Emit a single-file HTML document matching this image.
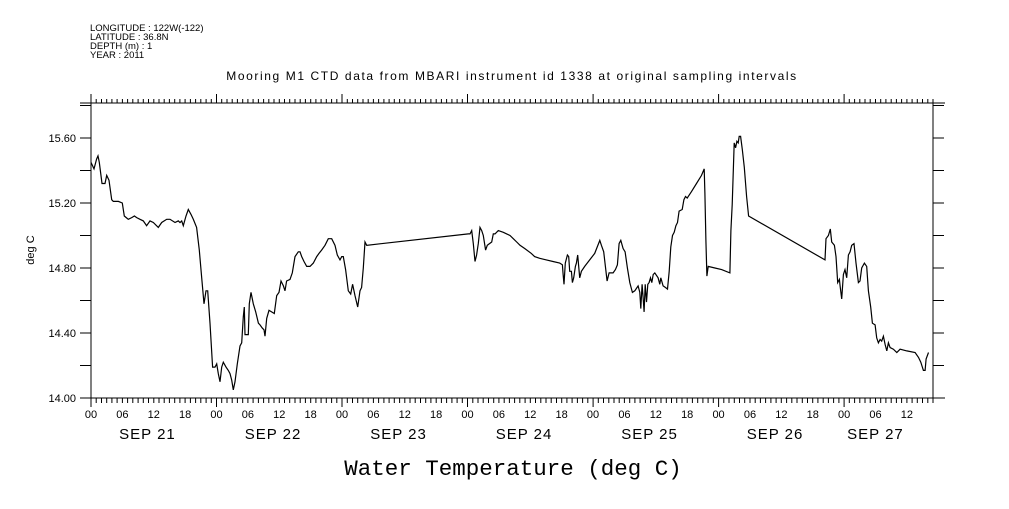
<!DOCTYPE html>
<html><head><meta charset="utf-8"><style>
body{margin:0;background:#fff;width:1009px;height:504px;overflow:hidden}
svg text{font-family:"Liberation Sans",sans-serif;fill:#000}
</style></head><body>
<svg id="chart" width="1009" height="504" viewBox="0 0 1009 504" xmlns="http://www.w3.org/2000/svg">
<g font-size="9.5">
<text x="90" y="31">LONGITUDE : 122W(-122)</text>
<text x="90" y="40">LATITUDE : 36.8N</text>
<text x="90" y="49">DEPTH (m) : 1</text>
<text x="90" y="58">YEAR : 2011</text>
</g>
<text x="512" y="80" font-size="12" letter-spacing="1.6" text-anchor="middle">Mooring M1 CTD data from MBARI instrument id 1338 at original sampling intervals</text>
<text x="34" y="250" font-size="11" text-anchor="middle" transform="rotate(-90 34 250)">deg C</text>
<text x="513" y="475" font-size="22.5" text-anchor="middle" style="font-family:'Liberation Mono',monospace">Water Temperature (deg C)</text>
<g id="axes"></g>
<path id="series" fill="none" stroke="#000" stroke-width="1.2"/>
</svg>
<script>
const hours=[0,0.57,1.08,1.34,1.59,2.1,2.68,3,3.44,3.95,4.27,5.23,5.99,6.37,7.14,7.78,8.29,8.73,9.37,10,10.64,11.28,11.92,12.87,13.51,14.47,15.11,16.06,16.7,17.02,17.34,17.65,18.16,18.61,19.12,19.57,20.2,20.71,21.16,21.61,21.99,22.31,22.75,23.26,23.71,24.03,24.35,24.67,24.99,25.3,25.81,26.26,26.58,26.9,27.21,27.53,27.98,28.49,28.81,29.13,29.32,29.45,30.08,30.27,30.59,31.04,31.49,32,32.31,32.76,33.08,33.27,33.59,34.03,34.54,35.05,35.5,35.95,36.33,36.78,37.09,37.41,38.05,38.5,39.01,39.64,39.96,40.28,40.73,41.24,41.87,42.51,43.15,43.59,44.1,44.74,45.38,46.02,46.65,47.1,47.61,47.93,48.25,48.69,49.2,49.65,50.03,50.48,50.99,51.43,51.75,52.07,52.39,52.71,72.15,72.47,72.79,73.1,73.42,73.74,74.06,74.38,74.7,75.02,75.46,75.78,76.61,76.93,77.25,77.88,78.84,79.48,80.11,80.75,81.39,82.03,82.92,84.19,84.83,85.79,87.07,88.34,89.62,90.13,90.26,90.45,90.7,91.09,91.34,91.53,91.85,92.04,92.3,92.62,92.81,93.06,93.26,93.45,93.77,94.4,95.36,96.32,97.28,97.6,98.04,98.36,98.68,99.06,99.83,100.28,100.66,100.98,101.3,101.74,102.13,102.57,103.02,103.53,103.98,104.62,104.93,105.13,105.38,105.57,105.76,105.96,106.21,106.47,106.72,106.98,107.23,107.49,107.81,108.44,108.76,108.95,109.4,109.85,110.23,110.55,110.87,111.19,111.51,111.83,112.15,112.46,113.04,113.36,113.68,114,114.83,115.78,116.74,117.25,117.38,117.57,117.76,118.02,119.29,120.57,122.16,122.36,122.61,122.99,123.25,123.5,123.76,123.95,124.21,124.53,124.91,125.36,125.74,140.35,140.54,140.99,141.37,141.63,142.14,142.46,142.78,143.1,143.23,143.55,143.86,144.18,144.5,144.82,145.14,145.46,145.9,146.28,146.73,147.05,147.37,147.88,148.33,148.64,149.09,149.41,149.92,150.24,150.56,150.88,151.2,151.52,151.84,152.16,152.48,152.8,153.43,154.07,154.71,155.99,157.58,158.22,158.66,159.17,159.49,159.68,160.13];
const temps=[15.45,15.41,15.47,15.49,15.45,15.32,15.32,15.37,15.34,15.22,15.21,15.21,15.2,15.12,15.1,15.11,15.12,15.11,15.1,15.09,15.06,15.09,15.08,15.05,15.08,15.1,15.1,15.08,15.09,15.08,15.09,15.06,15.12,15.16,15.13,15.1,15.05,14.91,14.74,14.58,14.66,14.66,14.46,14.19,14.19,14.21,14.15,14.1,14.19,14.22,14.19,14.17,14.15,14.11,14.05,14.1,14.21,14.32,14.34,14.5,14.56,14.39,14.39,14.58,14.65,14.58,14.53,14.46,14.45,14.43,14.42,14.38,14.49,14.54,14.53,14.52,14.63,14.65,14.72,14.69,14.66,14.72,14.73,14.77,14.87,14.9,14.9,14.87,14.84,14.81,14.81,14.83,14.87,14.89,14.91,14.94,14.98,14.98,14.94,14.88,14.85,14.87,14.87,14.79,14.66,14.64,14.7,14.63,14.56,14.66,14.68,14.8,14.96,14.94,15.01,15.01,15.03,14.95,14.84,14.88,14.95,15.05,15.03,15,14.91,14.94,14.96,15.01,15.01,15.03,15.02,15.01,15,14.98,14.96,14.94,14.92,14.89,14.87,14.86,14.85,14.84,14.83,14.82,14.77,14.7,14.83,14.88,14.87,14.78,14.78,14.71,14.74,14.81,14.83,14.88,14.81,14.74,14.78,14.81,14.85,14.89,14.97,14.94,14.9,14.81,14.72,14.77,14.77,14.79,14.82,14.95,14.97,14.92,14.9,14.8,14.71,14.65,14.66,14.69,14.65,14.55,14.7,14.62,14.53,14.7,14.59,14.7,14.71,14.74,14.71,14.76,14.77,14.74,14.7,14.74,14.69,14.68,14.67,14.78,14.93,15,15.02,15.06,15.08,15.15,15.16,15.22,15.24,15.23,15.27,15.32,15.37,15.41,15.26,14.97,14.75,14.81,14.8,14.79,14.77,15.03,15.19,15.57,15.54,15.58,15.57,15.61,15.61,15.53,15.42,15.24,15.12,14.85,14.98,15,15.04,14.96,14.94,14.87,14.71,14.73,14.69,14.61,14.76,14.79,14.74,14.88,14.9,14.94,14.95,14.83,14.71,14.72,14.8,14.83,14.81,14.66,14.56,14.46,14.45,14.37,14.34,14.36,14.35,14.38,14.33,14.29,14.34,14.31,14.3,14.28,14.3,14.29,14.28,14.25,14.22,14.17,14.17,14.24,14.28];
const yTickLabels=["14.00","14.40","14.80","15.20","15.60"];
const hourLabels=["00","06","12","18"];
const dayLabels=["SEP 21","SEP 22","SEP 23","SEP 24","SEP 25","SEP 26","SEP 27"];

const L=91,R=933,T=103,B=398,xMax=161,yMin=14,yMaxV=14+(B-T)/162.5;
const sx=h=>L+h/xMax*(R-L);
const sy=v=>B-(v-yMin)/(yMaxV-yMin)*(B-T);
const NS="http://www.w3.org/2000/svg";
const ax=document.getElementById('axes');
function mk(tag,attrs){const e=document.createElementNS(NS,tag);for(const k in attrs)e.setAttribute(k,attrs[k]);ax.appendChild(e);return e;}
let d=`M${L},${T}V${B}M${R},${T}V${B}M80,${T}H945M80,${B}H945`;
for(let h=0;h<=xMax;h++){const x=sx(h).toFixed(1);const day=h%24===0;
 d+=`M${x},${T}v${day?-9:-4}M${x},${B}v${day?9:5}`;}
for(let v=0;v<=9;v++){const y=sy(14+v*0.2).toFixed(1);d+=`M${L},${y}h-11M${R},${y}h11`;}
const ap=mk('path',{d:d,stroke:'#000','stroke-width':1,fill:'none'});


yTickLabels.forEach(s=>{const t=mk('text',{x:76,y:sy(+s)+4,'font-size':11,'text-anchor':'end'});t.textContent=s;
 
 });
for(let h=0;h<=xMax;h+=6){const t=mk('text',{x:sx(h),y:418,'font-size':11,'text-anchor':'middle'});t.textContent=hourLabels[(h/6)%4];
 
 }
dayLabels.forEach((s,i)=>{const h=Math.min(i*24+10.8,xMax-24+13);const t=mk('text',{x:sx(h),y:439,'font-size':15,'letter-spacing':1,'text-anchor':'middle'});t.textContent=s;
 
 });
document.getElementById('series').setAttribute('d',hours.map((h,i)=>(i?'L':'M')+sx(h).toFixed(1)+','+sy(temps[i]).toFixed(1)).join(''));
</script>
</body></html>
